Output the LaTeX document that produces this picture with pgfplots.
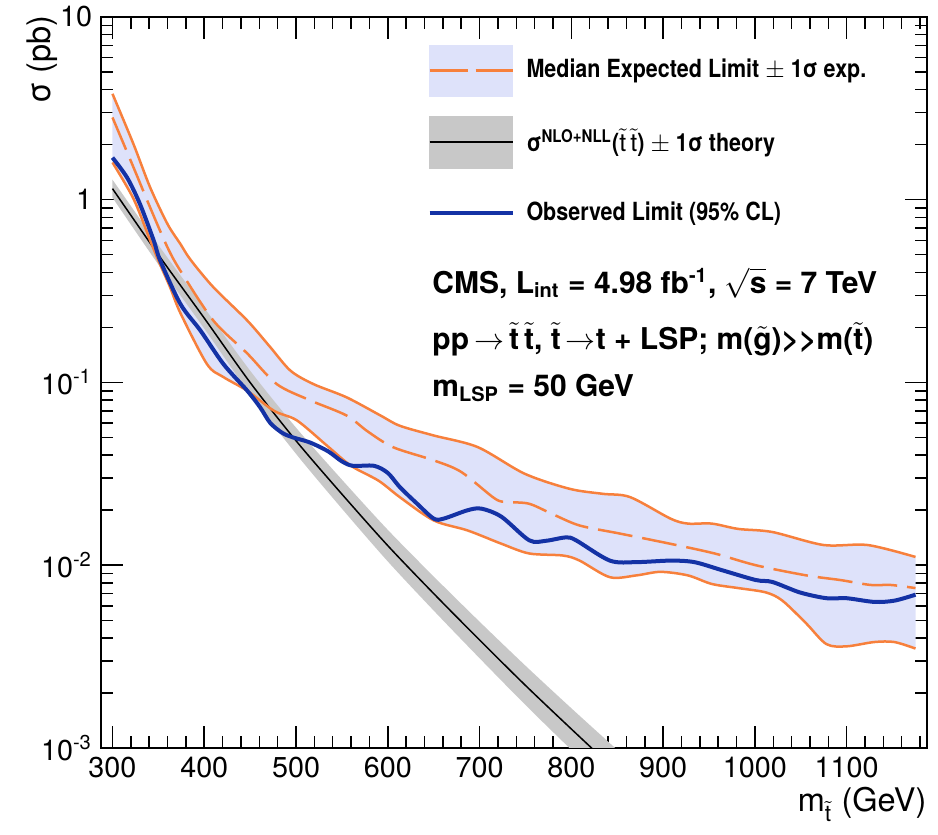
\documentclass[border=0pt]{standalone}
\usepackage{fontspec}
\setmainfont{TeX Gyre Heros}
\newfontfamily\legfont[FakeStretch=0.86]{TeX Gyre Heros}
\usepackage{pgfplots}
\usepackage{pgfplotstable}
\pgfplotsset{compat=1.18}
\usepgfplotslibrary{fillbetween}
\definecolor{cmsorange}{RGB}{247,128,60}
\definecolor{cmsblue}{RGB}{20,50,165}
\definecolor{bandblue}{RGB}{222,226,250}
\definecolor{theoryband}{RGB}{200,200,200}

\pgfplotstableread{
m s
300 3.8
323 2.01
341 1.17
360 0.736
374 0.573
385 0.470
410 0.332
447 0.218
472 0.156
494 0.116
519 0.098
555 0.083
592 0.066
613 0.058
650 0.0513
698 0.0443
749 0.0317
798 0.0262
834 0.0246
864 0.0236
908 0.0180
927 0.0169
953 0.0169
982 0.0158
1019 0.0152
1075 0.0129
1123 0.0129
1175 0.0111
}\tabUp

\pgfplotstableread{
m s
300 1.60
323 1.01
341 0.60
350 0.465
363 0.33
374 0.24
403 0.126
421 0.107
447 0.090
476 0.070
501 0.062
534 0.045
560 0.035
590 0.029
613 0.0236
650 0.0176
687 0.0155
724 0.0131
754 0.0116
791 0.0113
809 0.0106
842 0.0086
871 0.0088
897 0.0092
927 0.0088
953 0.0079
982 0.0075
1012 0.0071
1030 0.0064
1056 0.0048
1078 0.0037
1100 0.0036
1130 0.0038
1152 0.0038
1175 0.0035
}\tabLo

\pgfplotstableread{
m s
300 2.82
323 1.50
341 0.908
360 0.548
374 0.409
410 0.218
447 0.144
479 0.098
515 0.080
555 0.066
578 0.054
606 0.0442
650 0.0375
680 0.0324
717 0.0231
731 0.0222
754 0.0217
779 0.0191
809 0.0165
853 0.0149
908 0.0131
956 0.0116
1001 0.0100
1056 0.0088
1093 0.0083
1126 0.0078
1148 0.0078
1175 0.0075
}\tabExp

\pgfplotstableread{
m s
300 1.70
316 1.32
330 0.946
345 0.597
352 0.465
374 0.269
396 0.192
421 0.126
447 0.090
461 0.073
472 0.060
485 0.053
497 0.050
515 0.047
535 0.042
550 0.037
562 0.035
585 0.035
600 0.032
613 0.0268
632 0.0217
650 0.0180
661 0.0180
687 0.0200
702 0.0204
724 0.0184
754 0.0137
772 0.0136
794 0.0142
805 0.0137
842 0.0106
871 0.0104
908 0.0106
934 0.0104
964 0.0094
1001 0.0083
1019 0.0081
1049 0.0071
1078 0.0066
1100 0.0066
1130 0.0063
1152 0.0064
1175 0.0069
}\tabObs

\pgfplotstableread{
m c up dn
300 1.15 1.288 1.027
350 0.50 0.565 0.442
400 0.225 0.2565 0.1974
450 0.100 0.116 0.0862
500 0.048 0.0566 0.0407
550 0.0245 0.0294 0.0204
600 0.0128 0.01562 0.01049
650 0.0070 0.00868 0.00565
700 0.0039 0.00491 0.00310
750 0.0022 0.00282 0.00172
800 0.00127 0.00165 0.000977
850 0.00074 0.000977 0.000561
875 0.00057 0.000758 0.000429
}\tabTh

\begin{document}
\begin{tikzpicture}
\begin{axis}[
  at={(40.4pt,34.8pt)}, anchor=south west,
  scale only axis, width=330.4pt, height=292.4pt,
  ymode=log, xmin=287.5, xmax=1187.5, ymin=0.001, ymax=10,
  xtick={300,400,500,600,700,800,900,1000,1100},
  xticklabels={300,400,500,600,700,800,900,1000,1100},
  minor xtick={300,320,...,1180},
  ytick={0.001,0.01,0.1,1,10},
  yticklabels={10\textsuperscript{-3},10\textsuperscript{-2},10\textsuperscript{-1},1,10},
  minor ytick={0.002,0.003,0.004,0.005,0.006,0.007,0.008,0.009,0.02,0.03,0.04,0.05,0.06,0.07,0.08,0.09,0.2,0.3,0.4,0.5,0.6,0.7,0.8,0.9,2,3,4,5,6,7,8,9},
  tick align=inside, xtick pos=both, ytick pos=both,
  xticklabel pos=lower, yticklabel pos=left,
  major tick length=8.8pt, minor tick length=4.8pt,
  every tick/.style={black, line width=0.6pt},
  axis line style={line width=0.7pt},
  tick label style={font=\fontsize{11.5}{12}\selectfont},
  xlabel={m$_{\tilde{\mathrm{t}}}$ (GeV)},
  xlabel style={at={(axis description cs:1,-0.053)}, anchor=north east, inner sep=0pt, font=\fontsize{13}{14}\selectfont},
  ylabel={σ (pb)},
  ylabel style={at={(axis description cs:-0.052,1.003)}, anchor=south east, inner sep=0pt, font=\fontsize{13}{14}\selectfont},
  legend cell align=left,
  legend style={at={(axis description cs:0.3947,0.963)}, anchor=north west, draw=none, fill=none,
    inner sep=0pt, row sep=7.6pt, font=\legfont\bfseries\fontsize{10}{11}\selectfont},
]
% band
\addplot[draw=none, smooth, tension=0.5, name path=up, forget plot] table[x=m,y=s] {\tabUp};
\addplot[draw=none, smooth, tension=0.5, name path=lo, forget plot] table[x=m,y=s] {\tabLo};
\addplot[fill=bandblue, draw=none, forget plot] fill between[of=up and lo];
% theory band
\addplot[draw=none, smooth, name path=thu, forget plot] table[x=m,y=up] {\tabTh};
\addplot[draw=none, smooth, name path=thd, forget plot] table[x=m,y=dn] {\tabTh};
\addplot[fill=theoryband, draw=none, forget plot] fill between[of=thu and thd];
\addplot[black, smooth, line width=0.6pt, forget plot] table[x=m,y=c] {\tabTh};
% expected lines
\addplot[cmsorange, smooth, tension=0.5, line width=1pt, forget plot] table[x=m,y=s] {\tabUp};
\addplot[cmsorange, smooth, tension=0.5, line width=1pt, forget plot] table[x=m,y=s] {\tabLo};
\addplot[cmsorange, smooth, tension=0.5, line width=1pt, dash pattern=on 14pt off 4pt, forget plot] table[x=m,y=s] {\tabExp};
% observed
\addplot[cmsblue, smooth, tension=0.5, line width=1.6pt, forget plot] table[x=m,y=s] {\tabObs};

\addlegendimage{legend image code/.code={
  \path[draw=none,fill=none] (0pt,0pt) -- (36.8pt,0pt);
  \fill[bandblue] (0pt,-10.2pt) rectangle (33.2pt,10.2pt);
  \draw[cmsorange, line width=1pt, dash pattern=on 15.2pt off 3.2pt] (0pt,0pt) -- (33.2pt,0pt);}}
\addlegendentry{Median Expected Limit $\pm$ 1σ exp.}
\addlegendimage{legend image code/.code={
  \path[draw=none,fill=none] (0pt,0pt) -- (36.8pt,0pt);
  \fill[theoryband] (0pt,-10.4pt) rectangle (33.2pt,10.4pt);
  \draw[black, line width=0.9pt] (0pt,0pt) -- (33.2pt,0pt);}}
\addlegendentry{σ\textsuperscript{NLO+NLL}($\tilde{\mathrm{t}}\,\tilde{\mathrm{t}}$) $\pm$ 1σ theory}
\addlegendimage{legend image code/.code={
  \path[draw=none,fill=none] (0pt,-10.2pt) rectangle (36.8pt,10.2pt);
  \draw[cmsblue, line width=1.6pt] (0pt,0pt) -- (33.2pt,0pt);}}
\addlegendentry{Observed Limit (95\% CL)}

\node[anchor=base west, inner sep=0pt, font=\bfseries\fontsize{12}{14}\selectfont] at (axis description cs:0.4007,0.6224)
  {CMS, L\textsubscript{int} = 4.98 fb\textsuperscript{-1}, $\sqrt{\mbox{\bfseries s}}$ = 7 TeV};
\node[anchor=base west, inner sep=0pt, font=\bfseries\fontsize{12}{14}\selectfont] at (axis description cs:0.4007,0.5445)
  {pp\,$\rightarrow$\,$\tilde{\mathbf{t}}$\,$\tilde{\mathbf{t}}$, $\tilde{\mathbf{t}}$\,$\rightarrow$t + LSP; m($\tilde{\mathbf{g}}$)>\kern0pt>m($\tilde{\mathbf{t}}$)};
\node[anchor=base west, inner sep=0pt, font=\bfseries\fontsize{12}{14}\selectfont] at (axis description cs:0.4007,0.4802)
  {m\textsubscript{LSP} = 50 GeV};
\end{axis}
\pgfresetboundingbox
\path[use as bounding box] (0,0) rectangle (375.2pt,334pt);
\end{tikzpicture}
\end{document}
